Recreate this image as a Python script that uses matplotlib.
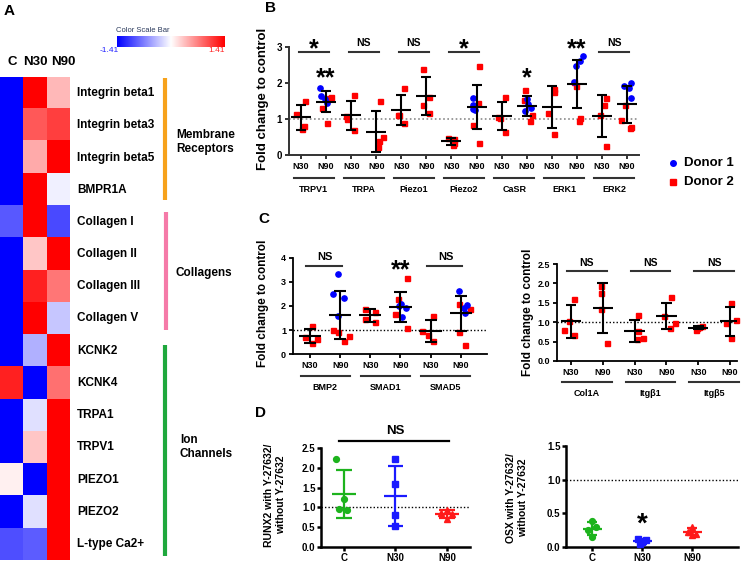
import numpy as np
import matplotlib
matplotlib.use('Agg')
import matplotlib.pyplot as plt

plt.rcParams['font.family'] = ['Liberation Sans', 'DejaVu Sans']
plt.rcParams['font.weight'] = 'bold'
plt.rcParams['axes.labelweight'] = 'bold'

W, H = 745, 564

# ---------------- Panel A : heatmap ----------------
heat_cols = ['C', 'N30', 'N90']
heat_rows = ['Integrin beta1', 'Integrin beta3', 'Integrin beta5', 'BMPR1A',
             'Collagen I', 'Collagen II', 'Collagen III', 'Collagen V',
             'KCNK2', 'KCNK4', 'TRPA1', 'TRPV1', 'PIEZO1', 'PIEZO2', 'L-type Ca2+']
heat_c = [-1.41, -1.41, -1.41, -1.41, -0.92, -1.41, -1.41, -1.41, -1.41, 1.23, -1.41, -1.41, 0.08, -1.41, -0.97]
heat_n30 = [1.41, 0.92, 0.47, 1.41, 1.41, 0.31, 1.23, 1.41, -0.44, -1.41, -0.17, 0.31, -1.41, -0.17, -0.90]
heat_n90 = [0.39, 1.06, 1.41, -0.08, -1.00, 1.41, 0.75, -0.31, 1.41, 0.79, 1.41, 1.41, 1.41, 1.41, 1.41]
heat_groups = ['Membrane\nReceptors', 'Collagens', 'Ion\nChannels']
heat_scale = 1.41

# ---------------- Panel B ----------------
b_genes = ['TRPV1', 'TRPA', 'Piezo1', 'Piezo2', 'CaSR', 'ERK1', 'ERK2']
b_n30_d2 = [[1.15, 1.50, 0.80, 0.73], [1.66, 1.08, 1.00, 0.69], [1.86, 1.12, 1.10, 0.90],
            [0.48, 0.45, 0.33, 0.27], [1.60, 1.06, 1.03, 0.64], [1.84, 1.74, 1.17, 0.57],
            [1.59, 1.40, 1.10, 0.26]]
b_n90_d1 = [[1.86, 1.65, 1.55, 1.44], [], [], [1.57, 1.40, 1.28, 1.25], [1.55, 1.42, 1.30, 1.22],
            [2.75, 2.61, 2.46, 2.02], [2.00, 1.91, 1.85, 1.58]]
b_n90_d2 = [[1.62, 1.58, 1.30, 0.88], [1.50, 0.49, 0.40, 0.22], [2.39, 1.60, 1.38, 1.17],
            [2.48, 1.44, 0.83, 0.34], [1.81, 1.53, 1.12, 0.95], [2.02, 1.91, 1.04, 0.95],
            [1.38, 0.98, 0.78, 0.76]]
b_pair_sig = ['*', 'NS', 'NS', '*', '', '', 'NS']
b_n90_sig = ['**', '', '', '', '*', '', '']
b_top_sig = ['', '', '', '', '', '**', '']

# jitter (horizontal scatter offsets, layout only)
b_j30 = [[-0.2, 0.15, 0.12, 0.05], [0.1, -0.2, -0.15, 0.1], [0.12, -0.15, -0.1, 0.12],
         [-0.12, 0.12, 0.1, 0.05], [0.13, -0.15, -0.08, 0.13], [0.1, 0.08, -0.13, 0.1],
         [0.17, 0.1, -0.09, 0.17]]
b_j90a = [[-0.25, -0.2, -0.05, 0.05], [], [], [-0.16, -0.16, -0.13, -0.07], [0.0, 0.07, 0.17, -0.07],
          [0.26, 0.13, -0.04, -0.13], [0.17, -0.13, 0.07, 0.17]]
b_j90b = [[0.2, 0.12, -0.15, 0.05], [0.15, 0.25, 0.12, 0.05], [-0.12, 0.12, -0.12, 0.12],
          [0.1, 0.07, -0.15, 0.1], [-0.08, -0.12, 0.2, 0.13], [-0.13, -0.04, 0.13, 0.09],
          [-0.09, -0.22, 0.17, 0.13]]

# ---------------- Panel C (left) ----------------
c1_genes = ['BMP2', 'SMAD1', 'SMAD5']
c1_n30_d2 = [[1.15, 0.69, 0.64, 0.46], [1.89, 1.75, 1.46, 1.32], [1.60, 0.95, 0.80, 0.53]]
c1_n90_d1 = [[3.32, 2.49, 2.35, 1.60], [2.07, 1.99, 1.92, 1.53], [2.62, 2.04, 1.93, 1.70]]
c1_n90_d2 = [[1.00, 0.92, 0.75, 0.53], [3.18, 2.31, 1.65, 1.07], [2.07, 1.87, 0.93, 0.36]]
c1_pair_sig = ['NS', '', 'NS']
c1_n90_sig = ['', '**', '']
c1_j30 = [[0.06, -0.17, 0.23, 0.06], [-0.19, 0.15, -0.19, 0.15], [0.08, -0.28, -0.08, 0.08]]
c1_j90a = [[-0.08, -0.25, 0.12, -0.08], [0.02, -0.06, 0.19, 0.06], [-0.06, 0.22, 0.11, 0.13]]
c1_j90b = [[-0.25, -0.06, 0.29, 0.12], [0.22, -0.09, -0.17, 0.22], [-0.06, 0.3, -0.06, 0.13]]

# ---------------- Panel C (right) ----------------
c2_genes = ['Col1A', 'Itg\u03b21', 'Itg\u03b25']
c2_n30 = [[1.61, 1.03, 0.79, 0.66], [1.18, 0.78, 0.60, 0.56], [0.90, 0.87, 0.86, 0.81]]
c2_n90 = [[1.93, 1.74, 1.34, 0.47], [1.64, 1.16, 0.97, 0.86], [1.50, 1.05, 0.97, 0.59]]
c2_sig = ['NS', 'NS', 'NS']
c2_j30 = [[0.1, -0.06, -0.22, 0.1], [0.1, 0.1, 0.25, 0.07], [0.13, 0.02, -0.03, -0.08]]
c2_j90 = [[-0.05, -0.05, -0.05, 0.14], [0.13, -0.07, 0.26, 0.11], [0.04, 0.18, -0.13, 0.04]]

# ---------------- Panel D ----------------
d_groups = ['C', 'N30', 'N90']
d_runx2 = [[2.22, 1.20, 0.97, 0.93], [2.22, 1.58, 0.82, 0.54], [0.93, 0.85, 0.84, 0.70]]
d_osx = [[0.38, 0.30, 0.25, 0.15], [0.12, 0.10, 0.07, 0.04], [0.30, 0.22, 0.20, 0.18]]
d_j = [[-0.15, 0.0, -0.1, 0.06], [0.0, 0.0, 0.0, 0.0], [0.0, -0.12, 0.1, 0.0]]
d_jo = [[0.0, 0.08, -0.08, 0.0], [-0.08, 0.08, 0.0, -0.04], [0.0, -0.08, 0.08, 0.0]]
d_colors = ['#1db31d', '#1a1aff', '#ff1a1a']
d_markers = ['o', 's', '^']

RED = '#ff0000'
BLUE = '#0000ff'

fig = plt.figure(figsize=(W / 100, H / 100), dpi=100)
ov = fig.add_axes([0, 0, 1, 1], zorder=0)
ov.set_xlim(0, W)
ov.set_ylim(H, 0)
ov.axis('off')


def add_ax(x0, y0, x1, y1):
    a = fig.add_axes([x0 / W, 1 - y1 / H, (x1 - x0) / W, (y1 - y0) / H], zorder=1)
    a.patch.set_alpha(0)
    return a


def style(ax, lw=1.4, col='black', ts=7, tl=3, pad=2):
    for s in ['top', 'right']:
        ax.spines[s].set_visible(False)
    for s in ['left', 'bottom']:
        ax.spines[s].set_linewidth(lw)
        ax.spines[s].set_color(col)
    ax.tick_params(direction='out', width=lw, length=tl, color=col, labelsize=ts, pad=pad)


def errgroup(ax, x, vals, cap, mw, color='black', lw=1.5):
    v = np.array(vals, dtype=float)
    m = v.mean()
    s = v.std(ddof=1)
    ax.vlines(x, m - s, m + s, color=color, lw=lw, zorder=4)
    ax.hlines([m - s, m + s], x - cap, x + cap, color=color, lw=lw, zorder=4)
    ax.hlines(m, x - mw, x + mw, color=color, lw=lw, zorder=4)


def pts(ax, x, vals, jit, marker, color, ms):
    if len(vals) == 0:
        return
    ax.plot(x + np.array(jit), vals, ls='none', marker=marker, color=color, ms=ms,
            mec=color, zorder=3, clip_on=False)


# ================= Panel A =================
ov.text(9, 11, 'A', fontsize=11, ha='center', va='center')
heat = np.array([heat_c, heat_n30, heat_n90]).T
axh = add_ax(0, 77, 70, 560)
axh.imshow(heat, cmap='bwr', vmin=-heat_scale, vmax=heat_scale, aspect='auto',
           interpolation='nearest')
axh.axis('off')
for cx, name in zip([12, 35, 63], heat_cols):
    ov.text(cx, 62, name, fontsize=9.5, ha='center', va='center')
row_h = (560 - 77) / len(heat_rows)
for i, name in enumerate(heat_rows):
    ov.text(77, 77 + (i + 0.5) * row_h, name, fontsize=8.5, ha='left', va='center')
# group bars
ov.plot([165, 165], [78, 200], color='#f7a21b', lw=3, solid_capstyle='butt')
ov.plot([166, 166], [212, 330], color='#f57aa8', lw=3, solid_capstyle='butt')
ov.plot([165, 165], [345, 556], color='#1fa83d', lw=3, solid_capstyle='butt')
ov.text(176, 142, heat_groups[0], fontsize=8.5, ha='left', va='center', linespacing=1.15)
ov.text(176, 273, heat_groups[1], fontsize=8.5, ha='left', va='center')
ov.text(180, 447, heat_groups[2], fontsize=8.5, ha='left', va='center', linespacing=1.15)
# color scale bar
axcb = add_ax(117, 36, 225, 47)
axcb.imshow(np.linspace(-heat_scale, heat_scale, 256)[None, :], cmap='bwr', aspect='auto',
            vmin=-heat_scale, vmax=heat_scale)
axcb.axis('off')
ov.text(143, 31, 'Color Scale Bar', fontsize=5.5, fontweight='normal', color='#2b3a5c',
        ha='center', va='center')
ov.text(109, 51, '-%.2f' % heat_scale, fontsize=6, fontweight='normal', color='#2222ff',
        ha='center', va='center')
ov.text(217, 51, '%.2f' % heat_scale, fontsize=6, fontweight='normal', color='#ff2222',
        ha='center', va='center')

# ================= Panel B =================
ov.text(270, 8, 'B', fontsize=11, ha='center', va='center')
axb = add_ax(289, 47, 639, 155)
style(axb, lw=1.4, col='#333333', ts=7)
axb.set_ylim(0, 3)
axb.set_xlim(-0.48, 13.48)
axb.set_yticks([0, 1, 2, 3])
axb.set_xticks(np.arange(2 * len(b_genes)))
axb.set_xticklabels(['N30', 'N90'] * len(b_genes), fontsize=6.5)
axb.axhline(1, color='#8a8a8a', lw=1.2, ls=(0, (1, 1.5)), zorder=1)
STAR_FS = 18
for g, gene in enumerate(b_genes):
    x30, x90 = 2 * g, 2 * g + 1
    pts(axb, x30, b_n30_d2[g], b_j30[g], 's', RED, 3.6)
    pts(axb, x90, b_n90_d2[g], b_j90b[g], 's', RED, 3.6)
    pts(axb, x90, b_n90_d1[g], b_j90a[g], 'o', BLUE, 3.8)
    errgroup(axb, x30, b_n30_d2[g], 0.2, 0.4)
    errgroup(axb, x90, list(b_n90_d1[g]) + list(b_n90_d2[g]), 0.2, 0.4)
    # group underline + label
    axb.plot([x30 - 0.3, x90 + 0.3], [-0.64, -0.64], color='#333333', lw=1.5, clip_on=False)
    axb.text((x30 + x90) / 2, -0.97, gene, fontsize=6.5, ha='center', va='center')
    if b_pair_sig[g]:
        axb.plot([x30 - 0.1, x90 + 0.1], [2.86, 2.86], color='#333333', lw=1.5, clip_on=False)
        if b_pair_sig[g] == 'NS':
            axb.text((x30 + x90) / 2, 3.1, 'NS', fontsize=7.5, ha='center', va='center')
        else:
            axb.text((x30 + x90) / 2, 2.73, b_pair_sig[g], fontsize=STAR_FS, ha='center',
                     va='baseline')
    if b_top_sig[g]:
        axb.text(x90, 2.73, b_top_sig[g], fontsize=STAR_FS, ha='center', va='baseline')
    if b_n90_sig[g]:
        axb.text(x90, 1.94, b_n90_sig[g], fontsize=STAR_FS, ha='center', va='baseline')
ov.text(263, 99, 'Fold change to control', rotation=90, fontsize=9.5, ha='center', va='center')
# legend
ov.plot([673], [163], 'o', color=BLUE, ms=4)
ov.plot([673], [182], 's', color=RED, ms=4)
ov.text(684, 163, 'Donor 1', fontsize=9.5, ha='left', va='center')
ov.text(684, 182, 'Donor 2', fontsize=9.5, ha='left', va='center')

# ================= Panel C left =================
ov.text(264, 219, 'C', fontsize=11, ha='center', va='center')
axc1 = add_ax(293, 258, 487, 354)
style(axc1, lw=1.3, ts=6.5)
axc1.set_ylim(0, 4)
axc1.set_xlim(-0.565, 5.87)
axc1.set_yticks([0, 1, 2, 3, 4])
axc1.set_xticks(np.arange(2 * len(c1_genes)))
axc1.set_xticklabels(['N30', 'N90'] * len(c1_genes), fontsize=6.5)
axc1.axhline(1, color='black', lw=1, ls=(0, (1, 1.5)), zorder=1)
for g, gene in enumerate(c1_genes):
    x30, x90 = 2 * g, 2 * g + 1
    pts(axc1, x30, c1_n30_d2[g], c1_j30[g], 's', RED, 3.6)
    pts(axc1, x90, c1_n90_d2[g], c1_j90b[g], 's', RED, 3.6)
    pts(axc1, x90, c1_n90_d1[g], c1_j90a[g], 'o', BLUE, 3.8)
    errgroup(axc1, x30, c1_n30_d2[g], 0.2, 0.37)
    errgroup(axc1, x90, c1_n90_d1[g] + c1_n90_d2[g], 0.2, 0.37)
    axc1.plot([x30 - 0.31, x90 + 0.31], [-0.917, -0.917], color='#333333', lw=1.5,
              clip_on=False)
    axc1.text((x30 + x90) / 2, -1.375, gene, fontsize=6.5, ha='center', va='center')
    if c1_pair_sig[g]:
        axc1.plot([x30 - 0.12, x90 + 0.05], [3.67, 3.67], color='#333333', lw=1.5,
                  clip_on=False)
        axc1.text((x30 + x90) / 2, 4.04, c1_pair_sig[g], fontsize=8, ha='center', va='center')
    if c1_n90_sig[g]:
        axc1.text(x90, 3.19, c1_n90_sig[g], fontsize=STAR_FS, ha='center', va='baseline')
ov.text(263, 303, 'Fold change to control', rotation=90, fontsize=8.5, ha='center', va='center')

# ================= Panel C right =================
axc2 = add_ax(557, 264, 737, 361)
style(axc2, lw=1.3, ts=6.5)
axc2.set_ylim(0, 2.5)
axc2.set_xlim(-0.44, 5.22)
axc2.set_yticks([0, 0.5, 1.0, 1.5, 2.0, 2.5])
axc2.yaxis.set_major_formatter(matplotlib.ticker.FormatStrFormatter('%.1f'))
axc2.set_xticks(np.arange(2 * len(c2_genes)))
axc2.set_xticklabels(['N30', 'N90'] * len(c2_genes), fontsize=6.5)
axc2.axhline(1, color='black', lw=1, ls=(0, (1, 1.5)), zorder=1)
for g, gene in enumerate(c2_genes):
    x30, x90 = 2 * g, 2 * g + 1
    pts(axc2, x30, c2_n30[g], c2_j30[g], 's', RED, 3.6)
    pts(axc2, x90, c2_n90[g], c2_j90[g], 's', RED, 3.6)
    errgroup(axc2, x30, c2_n30[g], 0.17, 0.32)
    errgroup(axc2, x90, c2_n90[g], 0.17, 0.32)
    axc2.plot([x30 - 0.28, x90 + 0.28], [-0.54, -0.54], color='#333333', lw=1.5, clip_on=False)
    axc2.text((x30 + x90) / 2, -0.825, gene, fontsize=6.5, ha='center', va='center')
    axc2.plot([x30 - 0.12, x90 + 0.12], [2.33, 2.33], color='#333333', lw=1.5, clip_on=False)
    axc2.text((x30 + x90) / 2, 2.52, c2_sig[g], fontsize=7.5, ha='center', va='center')
ov.text(528, 312, 'Fold change to control', rotation=90, fontsize=8.5, ha='center', va='center')

# ================= Panel D left =================
ov.text(261, 413, 'D', fontsize=11, ha='center', va='center')
axd1 = add_ax(321, 448, 470, 547)
style(axd1, lw=1.8, ts=7, tl=3, pad=1)
axd1.set_ylim(0, 2.5)
axd1.set_xlim(-0.45, 2.45)
axd1.set_yticks([0, 0.5, 1.0, 1.5, 2.0, 2.5])
axd1.yaxis.set_major_formatter(matplotlib.ticker.FormatStrFormatter('%.1f'))
axd1.set_xticks(range(len(d_groups)))
axd1.set_xticklabels(d_groups, fontsize=7)
axd1.axhline(1, color='black', lw=1, ls=(0, (1, 1.5)), zorder=1)
for i in range(len(d_groups)):
    pts(axd1, i, d_runx2[i], d_j[i], d_markers[i], d_colors[i], 4.2)
    errgroup(axd1, i, d_runx2[i], 0.15, 0.23, color=d_colors[i], lw=1.6)
axd1.plot([-0.1, 2.05], [2.68, 2.68], color='black', lw=1.6, clip_on=False)
axd1.text(1.0, 2.94, 'NS', fontsize=9.5, ha='center', va='center')
ov.text(275, 495, 'RUNX2 with Y-27632/\nwithout Y-27632', rotation=90, fontsize=7.5,
        ha='center', va='center', linespacing=1.2)

# ================= Panel D right =================
axd2 = add_ax(566, 446, 738, 547)
style(axd2, lw=1.8, ts=7, tl=3, pad=1)
axd2.set_ylim(0, 1.5)
axd2.set_xlim(-0.52, 2.92)
axd2.set_yticks([0, 0.5, 1.0, 1.5])
axd2.yaxis.set_major_formatter(matplotlib.ticker.FormatStrFormatter('%.1f'))
axd2.set_xticks(range(len(d_groups)))
axd2.set_xticklabels(d_groups, fontsize=7)
axd2.axhline(1, color='black', lw=1, ls=(0, (1, 1.5)), zorder=1)
for i in range(len(d_groups)):
    pts(axd2, i, d_osx[i], d_jo[i], d_markers[i], d_colors[i], 4.2)
    errgroup(axd2, i, d_osx[i], 0.1, 0.19, color=d_colors[i], lw=1.6)
axd2.text(1, 0.235, '*', fontsize=20, ha='center', va='baseline')
ov.text(517, 498, 'OSX with Y-27632/\nwithout Y-27632', rotation=90, fontsize=7.5,
        ha='center', va='center', linespacing=1.2)

fig.savefig('out.png', dpi=100)
